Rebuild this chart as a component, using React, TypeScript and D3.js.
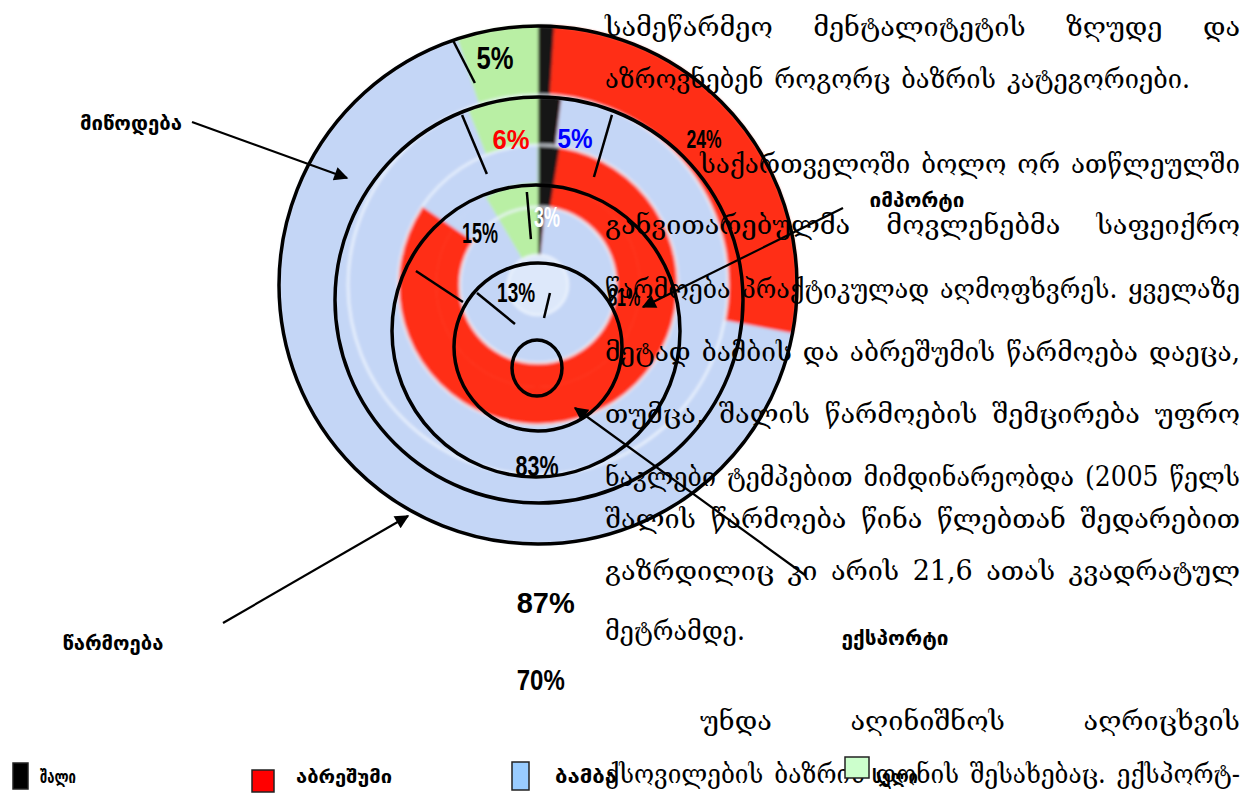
import React, { useEffect, useRef } from "react";
import * as d3 from "d3";

// ---------- data ----------
const seriesNames = ["შალი", "აბრეშუმი", "ბამბა", "სელი"];
// shares per ring, in series order (შალი, აბრეშუმი, ბამბა, სელი), clockwise from 12 o'clock
const ringOuter = [1, 27, 67, 5];
const ringSecond = [2, 0, 92, 6];
const ringThirdOuterPart = [2.5, 82, 15.5, 0];
const ringThirdInnerPart = [2.5, 82, 7, 8.5];
const ringInner = [1.5, 0, 90, 8.5];
const rings = [ringOuter, ringSecond, ringThirdOuterPart, ringThirdInnerPart, ringInner];

const pctLabels = ["5%", "6%", "5%", "24%", "15%", "3%", "13%", "81%", "83%", "87%", "70%"];
const calloutLabels = ["მიწოდება", "წარმოება", "იმპორტი", "ექსპორტი"];

const bodyLines = [
  "სამეწარმეო მენტალიტეტის ზღუდე და",
  "აზროვნებენ როგორც ბაზრის კატეგორიები.",
  "საქართველოში ბოლო ორ ათწლეულში",
  "განვითარებულმა მოვლენებმა საფეიქრო",
  "წარმოება პრაქტიკულად აღმოფხვრეს. ყველაზე",
  "მეტად ბამბის და აბრეშუმის წარმოება დაეცა,",
  "თუმცა, შალის წარმოების შემცირება უფრო",
  "ნაკლები ტემპებით მიმდინარეობდა (2005 წელს",
  "შალის წარმოება წინა წლებთან შედარებით",
  "გაზრდილიც კი არის 21,6 ათას კვადრატულ",
  "მეტრამდე.",
  "უნდა აღინიშნოს აღრიცხვის",
  "ქსოვილების ბაზრის დონის შესახებაც. ექსპორტ-",
];

// ---------- layout & style ----------
const W = 1259;
const H = 794;
const CX = 538;
const CY = 285;
const RING_RADII: [number, number][] = [
  [190, 259],
  [140, 189],
  [102, 140],
  [78, 102],
  [30, 77],
];
const SEPARATORS = [190, 140, 78, 30];
const HOLE_R = 30;
const sliceColors = ["#141414", "#ff2e16", "#c4d6f6", "#b9efa4"];
const legendColors = ["#000000", "#ff0000", "#99ccff", "#ccffcc"];
const BODY_FONT = "'DejaVu Serif', 'DejaVu Sans', serif";
const LABEL_FONT = "'DejaVu Sans', 'Noto Sans', sans-serif";
const NUM_FONT = "'Liberation Sans', Arial, sans-serif";
const BODY_SIZE = 27;

// percent label placement (angle deg clockwise from north, radius from doughnut centre, font size, width, colour)
const pctLayout: [number, number, number, number, string][] = [
  [-10.7, 232, 32, 37, "#000"],
  [-10.4, 149, 28, 37, "#ff0000"],
  [14.1, 152, 28, 35, "#0000ff"],
  [48.7, 221, 25, 35, "#000"],
  [-48.1, 78, 29, 36, "#000"],
  [7.5, 69, 29, 26, "#fff"],
  [-107.6, 23, 28, 38, "#000"],
  [98, 87, 26, 32, "#000"],
  [180.3, 180, 30, 43, "#000"],
  [178.6, 317, 30, 58, "#000"],
  [179.6, 395, 29, 48, "#000"],
];

// hand-drawn overlay ellipses: cx, cy, rx, ry
const overlayEllipses: [number, number, number, number][] = [
  [538, 285, 259, 259],
  [539, 300, 204, 203],
  [536, 331, 144, 146],
  [538, 347, 84, 84],
  [537, 368, 25, 28],
];
const OX = 537;
const OY = 368;
// overlay divider strokes in polar form about (OX, OY): angle0, r0, angle1, r1
const overlayStrokes: [number, number, number, number][] = [
  [-14.4, 338.6, -12.3, 291.7],
  [-16.5, 263.9, -14.5, 200.3],
  [16.5, 263.9, 16.6, 199.3],
  [-3.3, 176.3, -2.7, 129.1],
  [-51.3, 155.1, -48.3, 99.2],
  [-38.7, 96, -26.6, 49.2],
  [9.8, 76.1, 8, 50.5],
];

// callouts: label centre x, y, label width, arrow from, arrow to
const calloutLayout: [number, number, number, number, number, number, number][] = [
  [131, 123, 102, 192, 122, 347, 178],
  [113, 643, 101, 223, 623, 408, 516],
  [917, 200, 95, 843, 208, 643, 307],
  [895, 638, 107, 805, 575, 575, 408],
];

// body lines: x0, x1, y centre
const bodyLayout: [number, number, number][] = [
  [605, 1240, 28],
  [605, 1190, 80],
  [700, 1240, 165],
  [605, 1240, 226],
  [605, 1240, 290],
  [605, 1240, 353],
  [605, 1240, 415],
  [605, 1240, 478],
  [605, 1240, 520],
  [605, 1240, 572],
  [605, 745, 632],
  [700, 1240, 722],
  [605, 1240, 775],
];

// legend: rect x, y, w, h, text x, text width
const legendLayout: [number, number, number, number, number, number][] = [
  [13, 763, 15, 26, 40, 36],
  [252, 770, 22, 22, 296, 96],
  [512, 762, 17, 28, 555, 62],
  [845, 757, 24, 21, 872, 46],
];

const polar = (cx: number, cy: number, a: number, r: number): [number, number] => {
  const t = (a * Math.PI) / 180;
  return [cx + r * Math.sin(t), cy - r * Math.cos(t)];
};

export default function App() {
  const ref = useRef<SVGSVGElement>(null);

  useEffect(() => {
    const svg = d3.select(ref.current as SVGSVGElement);
    svg.selectAll("*").remove();

    const defs = svg.append("defs");
    defs
      .append("filter")
      .attr("id", "soft")
      .attr("x", "-5%")
      .attr("y", "-5%")
      .attr("width", "110%")
      .attr("height", "110%")
      .append("feGaussianBlur")
      .attr("stdDeviation", 1.4);
    defs
      .append("marker")
      .attr("id", "arrowHead")
      .attr("viewBox", "0 0 10 10")
      .attr("refX", 9)
      .attr("refY", 5)
      .attr("markerUnits", "userSpaceOnUse")
      .attr("markerWidth", 19)
      .attr("markerHeight", 14)
      .attr("orient", "auto")
      .append("path")
      .attr("d", "M0,0 L10,5 L0,10 Z")
      .attr("fill", "#000");

    svg.append("rect").attr("width", W).attr("height", H).attr("fill", "#fff");

    // ---- coloured doughnut ----
    const g = svg
      .append("g")
      .attr("transform", `translate(${CX},${CY})`)
      .attr("filter", "url(#soft)");
    const pie = d3
      .pie<number>()
      .sort(null)
      .value((d) => d)
      .startAngle(0)
      .endAngle(2 * Math.PI);

    rings.forEach((vals, i) => {
      const [r0, r1] = RING_RADII[i];
      const arc = d3
        .arc<d3.PieArcDatum<number>>()
        .innerRadius(r0)
        .outerRadius(r1);
      g.append("g")
        .selectAll("path")
        .data(pie(vals))
        .join("path")
        .attr("d", arc)
        .attr("fill", (_d, j) => sliceColors[j])
        .attr("stroke", (_d, j) => sliceColors[j])
        .attr("stroke-width", 0.6);
    });
    g.append("circle").attr("r", HOLE_R).attr("fill", "#dde8fa");
    // pale ring separators
    SEPARATORS.forEach((r) => {
      g.append("circle")
        .attr("r", r)
        .attr("fill", "none")
        .attr("stroke", "#eef4fd")
        .attr("stroke-opacity", 0.75)
        .attr("stroke-width", 3);
    });

    // ---- overlay ellipses ----
    svg
      .append("g")
      .selectAll("ellipse")
      .data(overlayEllipses)
      .join("ellipse")
      .attr("cx", (d) => d[0])
      .attr("cy", (d) => d[1])
      .attr("rx", (d) => d[2])
      .attr("ry", (d) => d[3])
      .attr("fill", "none")
      .attr("stroke", "#000")
      .attr("stroke-width", 3.5);

    svg
      .append("g")
      .selectAll("line")
      .data(overlayStrokes)
      .join("line")
      .each(function (d) {
        const [x1, y1] = polar(OX, OY, d[0], d[1]);
        const [x2, y2] = polar(OX, OY, d[2], d[3]);
        d3.select(this)
          .attr("x1", x1)
          .attr("y1", y1)
          .attr("x2", x2)
          .attr("y2", y2);
      })
      .attr("stroke", "#000")
      .attr("stroke-width", 2.5);

    // ---- body text ----
    const body = svg.append("g").attr("fill", "#000");
    bodyLines.forEach((line, i) => {
      const [x0, x1, yc] = bodyLayout[i];
      const y = yc + 8;
      const words = line.split(" ");
      const texts = words.map((w) =>
        body
          .append("text")
          .attr("font-family", BODY_FONT)
          .attr("font-size", BODY_SIZE)
          .attr("y", y)
          .text(w)
      );
      const widths = texts.map((t) => (t.node() as SVGTextElement).getComputedTextLength());
      const total = x1 - x0;
      if (words.length === 1) {
        texts[0]
          .attr("x", x0)
          .attr("textLength", total)
          .attr("lengthAdjust", "spacingAndGlyphs");
        return;
      }
      const sum = d3.sum(widths);
      const minGap = 11;
      let gap = (total - sum) / (words.length - 1);
      let scale = 1;
      if (gap < minGap) {
        scale = (total - minGap * (words.length - 1)) / sum;
        gap = minGap;
      }
      let x = x0;
      texts.forEach((t, k) => {
        const w = widths[k] * scale;
        t.attr("x", x);
        if (scale !== 1) t.attr("textLength", w).attr("lengthAdjust", "spacingAndGlyphs");
        x += w + gap;
      });
    });

    // ---- percent labels ----
    svg
      .append("g")
      .selectAll("text")
      .data(pctLabels)
      .join("text")
      .each(function (d, i) {
        const [a, r, fs, w, c] = pctLayout[i];
        const [x, y] = polar(CX, CY, a, r);
        d3.select(this)
          .attr("x", x - w / 2)
          .attr("y", y + fs * 0.36)
          .attr("font-size", fs)
          .attr("textLength", w)
          .attr("lengthAdjust", "spacingAndGlyphs")
          .attr("fill", c);
      })
      .attr("font-family", NUM_FONT)
      .attr("font-weight", "bold")
      .text((d) => d);

    // ---- callouts ----
    const co = svg.append("g");
    calloutLabels.forEach((lab, i) => {
      const [lx, ly, lw, ax1, ay1, ax2, ay2] = calloutLayout[i];
      co.append("text")
        .attr("x", lx - lw / 2)
        .attr("y", ly + 7)
        .attr("font-family", LABEL_FONT)
        .attr("font-weight", "bold")
        .attr("font-size", 20)
        .attr("textLength", lw)
        .attr("lengthAdjust", "spacingAndGlyphs")
        .text(lab);
      co.append("line")
        .attr("x1", ax1)
        .attr("y1", ay1)
        .attr("x2", ax2)
        .attr("y2", ay2)
        .attr("stroke", "#000")
        .attr("stroke-width", 2.2)
        .attr("marker-end", "url(#arrowHead)");
    });

    // ---- legend ----
    const lg = svg.append("g");
    seriesNames.forEach((name, i) => {
      const [rx, ry, rw, rh, tx, tw] = legendLayout[i];
      lg.append("rect")
        .attr("x", rx)
        .attr("y", ry)
        .attr("width", rw)
        .attr("height", rh)
        .attr("fill", legendColors[i])
        .attr("stroke", "#222")
        .attr("stroke-width", 1.5);
      lg.append("text")
        .attr("x", tx)
        .attr("y", 783)
        .attr("font-family", LABEL_FONT)
        .attr("font-weight", "bold")
        .attr("font-size", 18)
        .attr("textLength", tw)
        .attr("lengthAdjust", "spacingAndGlyphs")
        .text(name);
    });
  }, []);

  return (
    <svg
      ref={ref}
      width={W}
      height={H}
      style={{ position: "absolute", left: 0, top: 0, display: "block" }}
    />
  );
}
